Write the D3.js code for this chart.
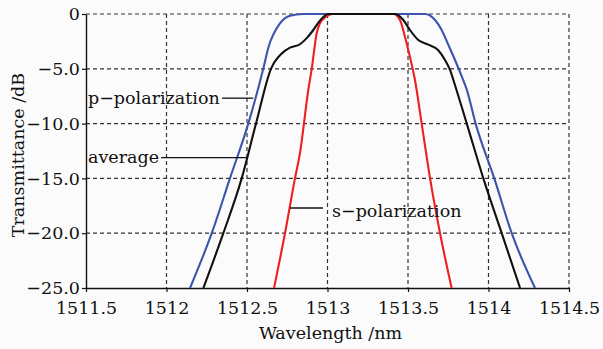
<!DOCTYPE html>
<html>
<head>
<meta charset="utf-8">
<script src="https://cdn.jsdelivr.net/npm/d3@7"></script>
<style>
  html, body { margin: 0; padding: 0; background: #fbfbfb; }
  svg { display: block; }
</style>
</head>
<body>
<div id="chart"></div>
<script>
// data (wavelength nm, transmittance dB)
var pWave = [1512.146, 1512.281, 1512.394, 1512.508, 1512.601, 1512.632, 1512.705, 1512.767, 1512.848,
             1513.606, 1513.668, 1513.709, 1513.750, 1513.792, 1513.834, 1513.865, 1513.920, 1514.036, 1514.144, 1514.289];
var pTrans = [-25, -20, -15, -10, -5, -3.1, -0.85, -0.15, 0,
              0, -0.55, -1.46, -2.8, -4.2, -5.7, -6.9, -10, -15, -20, -25];

var avgWave = [1512.229, 1512.353, 1512.467, 1512.556, 1512.649, 1512.716, 1512.767, 1512.829, 1512.871,
               1512.912, 1512.953, 1513.005, 1513.419, 1513.471, 1513.512, 1513.564, 1513.626, 1513.688, 1513.730,
               1513.761, 1513.792, 1513.865, 1513.968, 1514.082, 1514.196];
var avgTrans = [-25, -20, -15, -10, -5, -3.6, -3.07, -2.76, -2.2,
                -1.46, -0.6, 0, 0, -0.55, -1.46, -2.37, -2.8, -3.3, -4.2,
                -5.1, -6.5, -10, -15, -20, -25];

var sWave = [1512.668, 1512.736, 1512.798, 1512.829, 1512.881, 1512.902, 1512.933, 1512.953, 1512.991, 1513.028,
             1513.409, 1513.450, 1513.481, 1513.512, 1513.543, 1513.585, 1513.637, 1513.699, 1513.771];
var sTrans = [-25, -20, -15, -12.7, -6.9, -5, -1.76, -0.85, -0.25, 0,
              0, -0.55, -2.07, -3.9, -6.0, -10, -15, -20, -25];

var xTicks = [1511.5, 1512, 1512.5, 1513, 1513.5, 1514, 1514.5];
var xTickLabels = ["1511.5", "1512", "1512.5", "1513", "1513.5", "1514", "1514.5"];
var yTicks = [0, -5, -10, -15, -20, -25];
var yTickLabels = ["0", "\u22125.0", "\u221210.0", "\u221215.0", "\u221220.0", "\u221225.0"];

// label name, leader end on the curve (nm, dB)
var seriesNames = ["p\u2212polarization", "average", "s\u2212polarization"];
var leaderWave = [1512.539, 1512.498, 1512.767];
var leaderTrans = [-7.68, -13.1, -17.7];

var W = 603, H = 349;
var margin = {top: 14, right: 34, bottom: 61, left: 86};
var iw = W - margin.left - margin.right;
var ih = H - margin.top - margin.bottom;

var svg = d3.select("#chart").append("svg")
  .attr("width", W).attr("height", H);
svg.append("rect").attr("width", W).attr("height", H).attr("fill", "#fbfbfb");

var g = svg.append("g").attr("transform", "translate(" + margin.left + "," + margin.top + ")");

var x = d3.scaleLinear().domain([1511.5, 1514.5]).range([0, iw]);
var y = d3.scaleLinear().domain([-25, 0]).range([ih, 0]);

var serif = "'DejaVu Serif', serif";

// dashed grid (includes top and right border)
g.append("g").selectAll("line").data(xTicks.slice(1)).join("line")
  .attr("x1", function (d) { return x(d); }).attr("x2", function (d) { return x(d); })
  .attr("y1", 0).attr("y2", ih)
  .attr("stroke", "#333").attr("stroke-width", 1.2).attr("stroke-dasharray", "4,3");
g.append("g").selectAll("line").data(yTicks.slice(0, -1)).join("line")
  .attr("x1", 0).attr("x2", iw)
  .attr("y1", function (d) { return y(d); }).attr("y2", function (d) { return y(d); })
  .attr("stroke", "#333").attr("stroke-width", 1.2).attr("stroke-dasharray", "4,3");

// axes
var xAxis = d3.axisBottom(x).tickValues(xTicks)
  .tickFormat(function (d, i) { return xTickLabels[i]; })
  .tickSize(4).tickSizeOuter(0).tickPadding(10);
var yAxis = d3.axisLeft(y).tickValues(yTicks)
  .tickFormat(function (d, i) { return yTickLabels[i]; })
  .tickSize(4).tickSizeOuter(0).tickPadding(2);

var gx = g.append("g").attr("transform", "translate(0," + ih + ")").call(xAxis);
var gy = g.append("g").call(yAxis);
[gx, gy].forEach(function (a) {
  a.select(".domain").attr("stroke", "#111").attr("stroke-width", 1.4);
  a.selectAll(".tick line").attr("stroke", "#111").attr("stroke-width", 1.2);
  a.selectAll(".tick text").attr("fill", "#111").style("font-family", serif).style("font-size", "17.5px");
});

// curves
var line = d3.line()
  .x(function (d) { return x(d[0]); })
  .y(function (d) { return y(d[1]); })
  .curve(d3.curveMonotoneX);

function pairs(a, b) { return a.map(function (v, i) { return [v, b[i]]; }); }

var curves = [
  {w: pWave, t: pTrans, color: "#3b55ad"},
  {w: sWave, t: sTrans, color: "#ee1f1f"},
  {w: avgWave, t: avgTrans, color: "#111"}
];
curves.forEach(function (c) {
  g.append("path").datum(pairs(c.w, c.t))
    .attr("d", line).attr("fill", "none")
    .attr("stroke", c.color).attr("stroke-width", 2.1)
    .attr("stroke-linejoin", "round");
});

// annotations with leader lines (lx0 = end of the leader at the label side)
var labelPos = [
  {tx: 2, ty: 104, lx0: 136},
  {tx: 2, ty: 163, lx0: 75},
  {tx: 246, ty: 217, lx0: 237}
];
seriesNames.forEach(function (name, i) {
  var p = labelPos[i];
  var lx1 = x(leaderWave[i]), ly = y(leaderTrans[i]);
  g.append("line")
    .attr("x1", p.lx0).attr("x2", lx1).attr("y1", ly).attr("y2", ly)
    .attr("stroke", "#111").attr("stroke-width", 1.3);
  g.append("text")
    .attr("x", p.tx).attr("y", p.ty - margin.top)
    .attr("fill", "#111")
    .style("font-family", serif).style("font-size", "17.5px")
    .text(name);
});

// axis titles
svg.append("text")
  .attr("x", margin.left + iw / 2 + 3).attr("y", 339)
  .attr("text-anchor", "middle").attr("fill", "#111")
  .style("font-family", serif).style("font-size", "17.5px")
  .text("Wavelength /nm");
svg.append("text")
  .attr("transform", "translate(24,155) rotate(-90)")
  .attr("text-anchor", "middle").attr("fill", "#111")
  .style("font-family", serif).style("font-size", "17.5px")
  .text("Transmittance /dB");
</script>
</body>
</html>
